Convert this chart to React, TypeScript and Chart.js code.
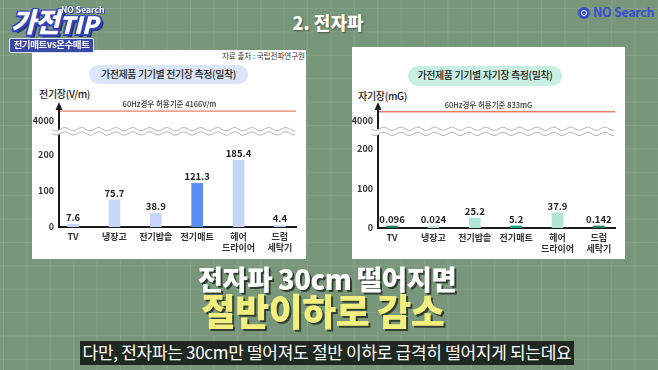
import React, { useEffect, useRef } from "react";
import { Chart, registerables } from "chart.js";
Chart.register(...registerables);

const FONT = "'Noto Sans CJK KR', 'Noto Sans', sans-serif";

// ---- data ----
const categories: string[][] = [["TV"], ["냉장고"], ["전기밥솥"], ["전기매트"], ["헤어", "드라이어"], ["드럼", "세탁기"]];
const electricValues = [7.6, 75.7, 38.9, 121.3, 185.4, 4.4];
const electricValueLabels = ["7.6", "75.7", "38.9", "121.3", "185.4", "4.4"];
const magneticValues = [0.096, 0.024, 25.2, 5.2, 37.9, 0.142];
const magneticValueLabels = ["0.096", "0.024", "25.2", "5.2", "37.9", "0.142"];
const yTicks = [0, 100, 200];
const breakTickLabel = "4000";
const electricLimitLabel = "60Hz경우 허용기준 4166V/m";
const magneticLimitLabel = "60Hz경우 허용기준 833mG";
const electricColors = ["#c5d6fa", "#c5d6fa", "#c5d6fa", "#5a8ef0", "#c5d6fa", "#c5d6fa"];
const magneticColors = ["#15805b", "#b3e5d6", "#b3e5d6", "#14a67a", "#b3e5d6", "#15805b"];

type Box = { left: number; top: number; width: number; height: number };
type Area = { left: number; right: number; top: number; bottom: number };

function BreakChart(props: {
  values: number[];
  valueLabels: string[];
  colors: string[];
  limitLabel: string;
  yMax: number;
  breakTickAt: number;
  limitAt: number;
  waveAt: [number, number];
  box: Box;
  area: Area;
  minBarLength: number;
}) {
  const ref = useRef<HTMLCanvasElement | null>(null);
  useEffect(() => {
    const p = props;
    const canvas = ref.current!;
    const plugin = {
      id: "breakDecor",
      afterDatasetsDraw(chart: any) {
        const { ctx, chartArea } = chart;
        const { left, right, top } = chartArea;
        const y = chart.scales.y;
        ctx.save();
        // broken-axis waves
        const ya = y.getPixelForValue(p.waveAt[1]);
        const yb = y.getPixelForValue(p.waveAt[0]);
        const x0 = left - 7;
        const x1 = right - 1;
        const amp = 1.6;
        const wl = 17;
        const wy = (x: number, yc: number) => yc + amp * Math.sin(((x - x0) / wl) * Math.PI * 2);
        ctx.beginPath();
        for (let x = x0; x <= x1; x += 0.5) {
          if (x === x0) ctx.moveTo(x, wy(x, ya));
          else ctx.lineTo(x, wy(x, ya));
        }
        for (let x = x1; x >= x0; x -= 0.5) ctx.lineTo(x, wy(x, yb));
        ctx.closePath();
        ctx.fillStyle = "#ffffff";
        ctx.fill();
        ctx.strokeStyle = "#a9a9a9";
        ctx.lineWidth = 1;
        [ya, yb].forEach((yc) => {
          ctx.beginPath();
          for (let x = x0; x <= x1; x += 0.5) {
            if (x === x0) ctx.moveTo(x, wy(x, yc));
            else ctx.lineTo(x, wy(x, yc));
          }
          ctx.stroke();
        });
        // limit line
        const yl = y.getPixelForValue(p.limitAt);
        ctx.strokeStyle = "#e8806b";
        ctx.lineWidth = 1.3;
        ctx.beginPath();
        ctx.moveTo(left + 1, yl);
        ctx.lineTo(right, yl);
        ctx.stroke();
        ctx.fillStyle = "#333";
        ctx.font = `500 7.5px ${FONT}`;
        ctx.textAlign = "center";
        ctx.textBaseline = "bottom";
        ctx.fillText(p.limitLabel, (left + right) / 2 - 8, yl - 3);
        // arrow head
        ctx.fillStyle = "#1a1a1a";
        ctx.beginPath();
        ctx.moveTo(left, top - 7);
        ctx.lineTo(left - 3.5, top + 1);
        ctx.lineTo(left + 3.5, top + 1);
        ctx.closePath();
        ctx.fill();
        // value labels
        const meta = chart.getDatasetMeta(0);
        ctx.fillStyle = "#222";
        ctx.font = `600 9.5px ${FONT}`;
        meta.data.forEach((bar: any, i: number) => {
          ctx.fillText(p.valueLabels[i], bar.x, bar.y - 2);
        });
        ctx.restore();
      },
    };
    const chart = new Chart(canvas, {
      type: "bar",
      data: {
        datasets: [
          {
            data: p.values.map((v, i) => ({ x: i, y: v })),
            backgroundColor: p.colors,
            barThickness: 11,
            minBarLength: p.minBarLength,
          } as any,
        ],
      },
      options: {
        animation: false,
        responsive: false,
        maintainAspectRatio: false,
        layout: { padding: { left: 0, right: p.box.width - p.area.right, top: p.area.top, bottom: 0 } },
        plugins: { legend: { display: false }, tooltip: { enabled: false } },
        scales: {
          x: {
            type: "linear",
            min: -0.34,
            max: 5.39,
            offset: false,
            grid: { display: false, drawTicks: false, offset: false },
            border: { display: true, color: "#1a1a1a", width: 2 },
            afterBuildTicks: (s: any) => {
              s.ticks = categories.map((_, i) => ({ value: i }));
            },
            afterFit: (s: any) => {
              s.height = p.box.height - p.area.bottom;
            },
            ticks: {
              autoSkip: false,
              maxRotation: 0,
              padding: 4,
              color: "#333",
              font: { family: FONT, size: 9, weight: "600", lineHeight: 1.25 },
              callback: (v: any) => categories[v as number],
            },
          },
          y: {
            type: "linear",
            min: 0,
            max: p.yMax,
            grid: { display: false, drawTicks: false },
            border: { display: true, color: "#1a1a1a", width: 2 },
            afterBuildTicks: (s: any) => {
              s.ticks = [...yTicks, p.breakTickAt].map((v) => ({ value: v }));
            },
            afterFit: (s: any) => {
              s.width = p.area.left;
            },
            ticks: {
              padding: 5,
              color: "#333",
              font: { family: FONT, size: 9, weight: "700" },
              callback: (v: any) => (v === p.breakTickAt ? breakTickLabel : String(v)),
            },
          },
        },
      } as any,
      plugins: [plugin],
    });
    return () => chart.destroy();
  }, []);
  const b = props.box;
  return (
    <canvas
      ref={ref}
      width={b.width}
      height={b.height}
      style={{ position: "absolute", left: b.left, top: b.top, width: b.width, height: b.height }}
    />
  );
}

function Label(props: {
  text: string;
  x: number;
  y: number;
  size: number;
  weight?: number;
  color?: string;
  align?: "left" | "center" | "right";
  shadow?: string;
  spacing?: number;
  italic?: boolean;
}) {
  const align = props.align || "left";
  const tx = align === "center" ? "translateX(-50%)" : align === "right" ? "translateX(-100%)" : "none";
  return (
    <div
      style={{
        position: "absolute",
        left: props.x,
        top: props.y - props.size * 0.56,
        fontSize: props.size,
        lineHeight: `${props.size}px`,
        fontWeight: props.weight || 400,
        color: props.color || "#222",
        whiteSpace: "nowrap",
        transform: tx,
        textShadow: props.shadow,
        letterSpacing: props.spacing,
        fontStyle: props.italic ? "italic" : "normal",
        fontFamily: FONT,
      }}
    >
      {props.text}
    </div>
  );
}

export default function App() {
  const outline = "#3445b8";
  const logoShadow = `-1.5px -1.5px 0 ${outline}, 1.5px -1.5px 0 ${outline}, -1.5px 1.5px 0 ${outline}, 1.5px 1.5px 0 ${outline}, 0 2px 0 ${outline}, 2px 0 0 ${outline}, 3px 3px 0 #22307e`;
  return (
    <div
      style={{
        position: "fixed",
        left: 0,
        top: 0,
        width: 658,
        height: 370,
        overflow: "hidden",
        backgroundColor: "#78977a",
        backgroundImage:
          "linear-gradient(rgba(255,255,255,0.09) 1px, transparent 1px), linear-gradient(90deg, rgba(255,255,255,0.09) 1px, transparent 1px)",
        backgroundSize: "23.4px 23.4px",
        backgroundPosition: "3px 8px",
        fontFamily: FONT,
      }}
    >
      {/* panels */}
      <div style={{ position: "absolute", left: 32, top: 50, width: 274, height: 209, background: "#fff" }} />
      <div style={{ position: "absolute", left: 352, top: 47, width: 273, height: 212, background: "#fff" }} />

      {/* panel 1 texts */}
      <Label text="자료 출처 : 국립전파연구원" x={305} y={56} size={7.5} color="#333" align="right" />
      <div
        style={{
          position: "absolute",
          left: 89,
          top: 65,
          width: 159,
          height: 19,
          borderRadius: 10,
          background: "#dce6fa",
        }}
      />
      <Label text="가전제품 기기별 전기장 측정(밀착)" x={168.5} y={75} size={10} weight={500} align="center" spacing={-0.4} />
      <Label text="전기장(V/m)" x={39} y={95} size={10} weight={500} spacing={-0.3} />

      {/* panel 2 texts */}
      <div
        style={{
          position: "absolute",
          left: 408,
          top: 66,
          width: 154,
          height: 20,
          borderRadius: 10,
          background: "#c9eee2",
        }}
      />
      <Label text="가전제품 기기별 자기장 측정(밀착)" x={485} y={76} size={10} weight={500} align="center" spacing={-0.4} />
      <Label text="자기장(mG)" x={358} y={97} size={10} weight={500} spacing={-0.3} />

      <BreakChart
        values={electricValues}
        valueLabels={electricValueLabels}
        colors={electricColors}
        limitLabel={electricLimitLabel}
        yMax={328}
        breakTickAt={297}
        limitAt={322}
        waveAt={[260, 272]}
        box={{ left: 32, top: 50, width: 274, height: 209 }}
        area={{ left: 27, right: 264, top: 59, bottom: 177 }}
        minBarLength={0}
      />
      <BreakChart
        values={magneticValues}
        valueLabels={magneticValueLabels}
        colors={magneticColors}
        limitLabel={magneticLimitLabel}
        yMax={301}
        breakTickAt={271}
        limitAt={294}
        waveAt={[238, 251]}
        box={{ left: 352, top: 47, width: 273, height: 212 }}
        area={{ left: 26, right: 263, top: 62, bottom: 181 }}
        minBarLength={2}
      />

      {/* logo */}
      <Label text="가전" x={11} y={22} size={27} weight={900} color="#fff" shadow={logoShadow} italic spacing={-1} />
      <Label text="TIP" x={59} y={25} size={24} weight={900} color="#fff" shadow={logoShadow} italic spacing={-0.5} />
      <Label text="NO Search" x={61} y={10} size={8.5} weight={700} color="#fff" shadow={`0 0 2px ${outline}, 1px 1px 0 ${outline}`} />
      <div
        style={{
          position: "absolute",
          left: 9,
          top: 38,
          width: 85,
          height: 15,
          background: "#3a48a6",
          borderRadius: 2,
          border: "1px solid #dfe3ff",
          boxSizing: "border-box",
        }}
      />
      <Label text="전기매트vs온수매트" x={51.5} y={45.5} size={9.5} weight={700} color="#fff" align="center" spacing={-0.4} />

      {/* header */}
      <Label text="2. 전자파" x={328} y={23} size={18} weight={900} color="#fff" align="center" shadow="1px 1px 2px rgba(0,0,0,0.45)" />
      <div
        style={{
          position: "absolute",
          left: 578,
          top: 7,
          width: 12,
          height: 12,
          borderRadius: 6,
          background: "#3a4fd0",
        }}
      >
        <div
          style={{
            position: "absolute",
            left: 3,
            top: 3,
            width: 4,
            height: 4,
            borderRadius: 3,
            border: "1.3px solid #fff",
          }}
        />
      </div>
      <Label text="NO Search" x={593} y={13} size={12.5} weight={700} color="#3a4fd0" spacing={-0.3} />

      {/* headline */}
      <Label
        text="전자파 30cm 떨어지면"
        x={327}
        y={280}
        size={27.5}
        weight={900}
        color="#fff"
        align="center"
        spacing={-0.5}
        shadow="2px 2px 0 rgba(25,35,28,0.75)"
      />
      <Label
        text="절반이하로 감소"
        x={323}
        y={313}
        size={37}
        weight={900}
        color="#f3ef7e"
        align="center"
        spacing={-0.5}
        shadow="2px 2px 0 rgba(25,35,28,0.75)"
      />

      {/* subtitle */}
      <div
        style={{
          position: "absolute",
          left: 80,
          top: 341,
          width: 494,
          height: 24,
          background: "rgba(22,28,24,0.9)",
        }}
      />
      <Label
        text="다만, 전자파는 30cm만 떨어져도 절반 이하로 급격히 떨어지게 되는데요"
        x={327}
        y={353}
        size={17}
        weight={400}
        color="#fff"
        align="center"
        spacing={-0.3}
      />
    </div>
  );
}
